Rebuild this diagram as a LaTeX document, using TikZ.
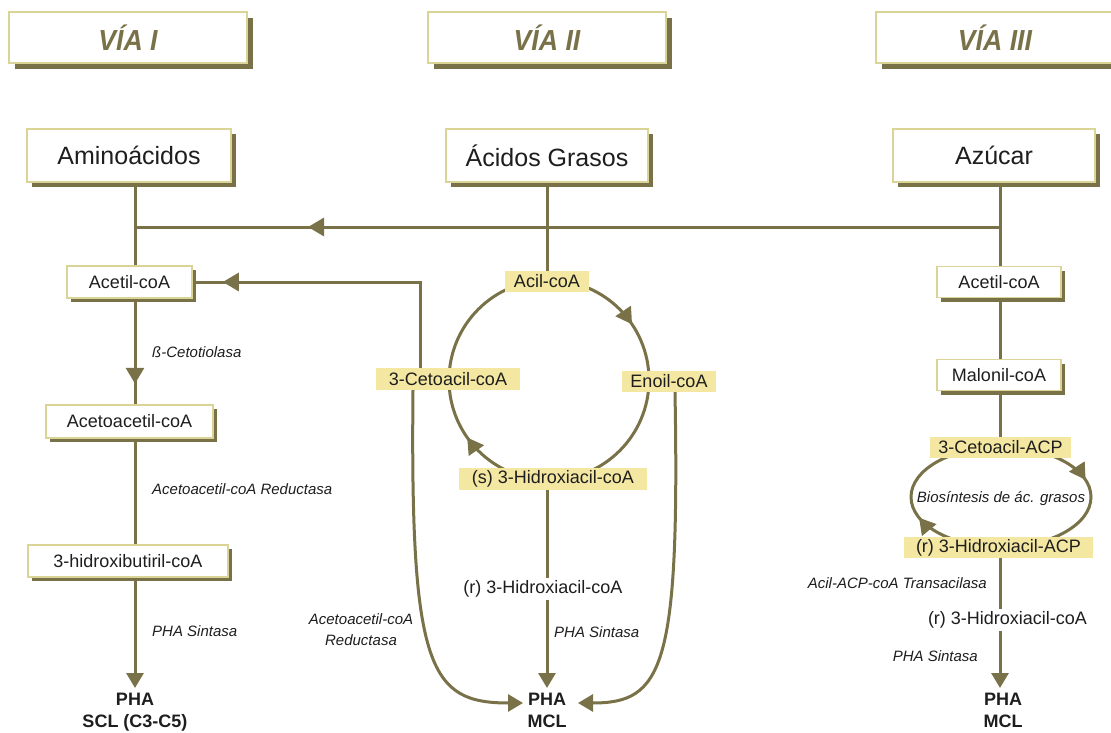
\documentclass[tikz,border=0pt]{standalone}
\usepackage{fontspec}
\setmainfont{Liberation Sans}
\newfontfamily\hdrfont[FakeStretch=0.92]{Liberation Sans}
\usetikzlibrary{arrows.meta,shadows,decorations.markings,calc}
\definecolor{lineol}{RGB}{121,113,72}
\definecolor{bordc}{RGB}{218,212,150}
\definecolor{hlc}{RGB}{244,231,161}
\definecolor{txtc}{RGB}{30,30,30}
\pgfdeclarelayer{bg}
\pgfdeclarelayer{lines}
\pgfsetlayers{bg,lines,main}
\tikzset{
  ln/.style={draw=lineol, line width=3pt},
  ar/.style={-{Triangle[length=15pt,width=17pt]}},
  midar/.style={postaction={decorate,decoration={markings,mark=at position #1 with {\arrow[lineol]{Triangle[length=16pt,width=18pt]}}}}},
  twoar/.style 2 args={postaction={decorate,decoration={markings,
      mark=at position #1 with {\arrow[lineol]{Triangle[length=16pt,width=18pt]}},
      mark=at position #2 with {\arrow[lineol]{Triangle[length=16pt,width=18pt]}}}}},
  hdr/.style={draw=bordc, line width=1.5pt, fill=white, minimum width=238pt, minimum height=51pt,
      drop shadow={shadow xshift=6pt, shadow yshift=-6pt, fill=lineol, opacity=1},
      font=\hdrfont\fontsize{29}{34}\selectfont\bfseries\itshape, text=lineol},
  bigbox/.style={draw=bordc, line width=1.5pt, fill=white, inner sep=0pt,
      drop shadow={shadow xshift=5pt, shadow yshift=-5pt, fill=lineol, opacity=1},
      font=\fontsize{25}{30}\selectfont, text=txtc},
  smbox/.style={draw=bordc, line width=1.5pt, fill=white, inner sep=0pt,
      drop shadow={shadow xshift=4pt, shadow yshift=-4pt, fill=lineol, opacity=1},
      font=\fontsize{18}{22}\selectfont, text=txtc},
  hl/.style={fill=hlc, inner sep=0pt, font=\fontsize{18}{22}\selectfont, text=txtc},
  txt/.style={inner xsep=0pt, inner ysep=2pt, font=\fontsize{18}{22}\selectfont, text=txtc},
  lab/.style={inner sep=0pt, font=\fontsize{15}{21}\selectfont\itshape, text=txtc},
  pha/.style={inner sep=0pt, align=center, font=\fontsize{18}{22}\selectfont\bfseries, text=txtc}
}
\begin{document}
\begin{tikzpicture}[x=1pt,y=-1pt]
\begin{pgfonlayer}{bg}
\fill[white] (0,0) rectangle (1111,733);
\end{pgfonlayer}
\useasboundingbox (0,0) rectangle (1111,733);

% headers
\node[hdr] (h1) at (128,37.5) {VÍA I};
\node[hdr] (h2) at (547,37.5) {VÍA II};
\node[hdr] (h3) at (995,37.5) {VÍA III};

% sources
\node[bigbox, minimum width=204pt, minimum height=53pt] (amino) at (129,155.5) {Aminoácidos};
\node[bigbox, minimum width=202pt, minimum height=53pt] (grasos) at (547,155.5) {Ácidos Grasos};
\node[bigbox, minimum width=202pt, minimum height=53pt] (azu) at (994,155.5) {Azúcar};

% left column boxes
\node[smbox, minimum width=125pt, minimum height=32pt] (acL) at (129.5,282) {Acetil-coA};
\node[smbox, minimum width=167pt, minimum height=33pt] (aa) at (129.5,421.5) {Acetoacetil-coA};
\node[smbox, minimum width=200pt, minimum height=32pt] (hb) at (128,561) {3-hidroxibutiril-coA};

% right column boxes
\node[smbox, minimum width=124pt, minimum height=31pt] (acR) at (999,282) {Acetil-coA};
\node[smbox, minimum width=124pt, minimum height=31pt] (mal) at (999,375) {Malonil-coA};

% highlighted
\node[hl, minimum width=84pt, minimum height=21pt] (acil) at (547,281.5) {Acil-coA};
\node[hl, minimum width=144pt, minimum height=22pt] (ceto) at (448,379) {3-Cetoacil-coA};
\node[hl, minimum width=94pt, minimum height=21pt] (enoil) at (669,381.5) {Enoil-coA};
\node[hl, minimum width=188pt, minimum height=22pt] (sh) at (553,479) {(s) 3-Hidroxiacil-coA};
\node[hl, minimum width=141pt, minimum height=21pt] (cacp) at (1000.5,447.5) {3-Cetoacil-ACP};
\node[hl, minimum width=189pt, minimum height=21pt] (hacp) at (998.5,547.5) {(r) 3-Hidroxiacil-ACP};

% plain texts
\node[txt] (rM) at (543,589) {(r) 3-Hidroxiacil-coA};
\node[txt] (rR) at (1007.5,620) {(r) 3-Hidroxiacil-coA};

% enzyme labels
\node[lab, anchor=west] (l1) at (152,352) {ß-Cetotiolasa};
\node[lab, anchor=west] (l2) at (152,489) {Acetoacetil-coA Reductasa};
\node[lab, anchor=west] (l3) at (152,631) {PHA Sintasa};
\node[lab, anchor=west] (l4) at (554,632) {PHA Sintasa};
\node[lab, align=center] (l5) at (361,630) {Acetoacetil-coA\\Reductasa};
\node[lab, anchor=east] (l6) at (987,583) {Acil-ACP-coA Transacilasa};
\node[lab, anchor=east] (l7) at (978,656) {PHA Sintasa};
\node[lab] (l8) at (1001,499) {Biosíntesis de ác. grasos};

% products
\node[pha, anchor=north] (p1) at (135,693) {PHA\\SCL (C3-C5)};
\node[pha, anchor=north] (p2) at (547,693) {PHA\\MCL};
\node[pha, anchor=north] (p3) at (1003,693) {PHA\\MCL};

% column coordinates
\coordinate (L) at (135,0);
\coordinate (M) at (547,0);
\coordinate (R) at (1000,0);
\coordinate (X) at (420,0);
\coordinate (X2) at (413,0);
\coordinate (X3) at (675,0);
\coordinate (jL) at (135,227);
\coordinate (jR) at (1000,227);
\coordinate (cyc) at (549,380);
\coordinate (ell) at (1001,497);

\begin{pgfonlayer}{lines}
\draw[ln] (amino.south -| L) -- (acL.north -| L);
\draw[ln] (azu.south -| R) -- (acR.north -| R);
\draw[ln, midar=692pt] (jR) -- (jL);
\draw[ln] (grasos.south -| M) -- (acil.north);
\draw[ln, midar=85pt] (acL.south -| L) -- (aa.north -| L);
\draw[ln] (aa.south -| L) -- (hb.north -| L);
\draw[ln, ar] (hb.south -| L) -- ($(p1.north)+(0,-5)$);
\draw[ln, midar=283pt] (ceto.north -| X) |- (acL.east);
% beta-oxidation cycle
\draw[ln, twoar={98pt}{410pt}] ($(cyc)+(0,-100)$) arc[start angle=90, end angle=-270, radius=100pt];
\draw[ln] (sh.south -| M) -- (rM.north -| M);
\draw[ln, ar] (rM.south -| M) -- ($(p2.north)+(0,-5)$);
\draw[ln, ar] (ceto.south -| X2) .. controls (410,670) and (430,703) .. ($(p2.north)+(-24,10)$);
\draw[ln, ar] (enoil.south -| X3) .. controls (680,670) and (662,703) .. ($(p2.north)+(31,10)$);
% right column
\draw[ln] (acR.south -| R) -- (mal.north -| R);
\draw[ln] (mal.south -| R) -- (cacp.north -| R);
\draw[ln, twoar={94pt}{314pt}] ($(ell)+(0,-50)$) arc[start angle=90, end angle=-270, x radius=90pt, y radius=50pt];
\draw[ln] (hacp.south -| R) -- (rR.north -| R);
\draw[ln, ar] (rR.south -| R) -- ($(p3.north)+(-3,-5)$);
\end{pgfonlayer}
\end{tikzpicture}
\end{document}
